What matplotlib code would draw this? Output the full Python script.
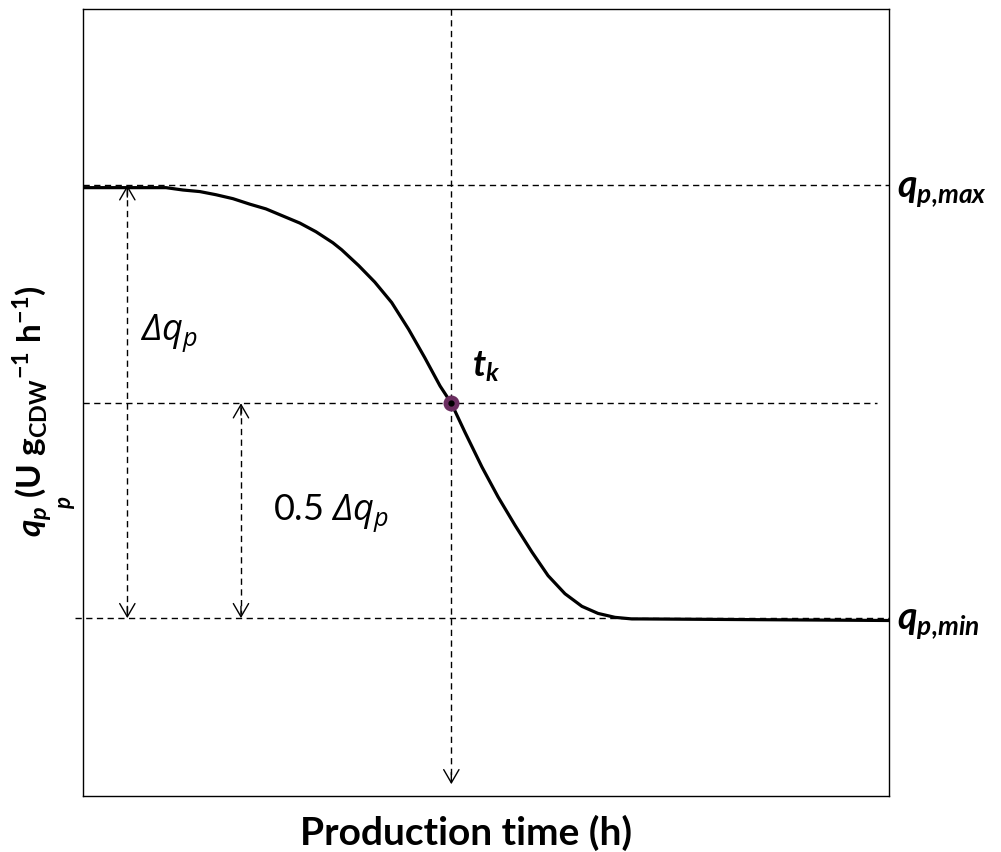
import matplotlib
matplotlib.use("Agg")
import matplotlib.pyplot as plt

plt.rcParams['font.family'] = ['Lato', 'DejaVu Sans']
plt.rcParams['mathtext.fontset'] = 'custom'
# Greek capitals inside \mathit are taken from the "rm" font, so make it italic
plt.rcParams['mathtext.rm'] = 'Open Sans:italic'
plt.rcParams['mathtext.it'] = 'Open Sans:italic'
plt.rcParams['mathtext.bf'] = 'Lato:bold'
plt.rcParams['mathtext.bfit'] = 'Lato:italic:bold'

# ---- data (arbitrary units) ----
time_h = [0.0, 10.3, 12.4, 14.5, 16.5, 18.6, 20.7, 22.7, 24.8, 26.9, 28.9, 31.0,
          32.1, 34.2, 36.2, 38.3, 40.4, 42.4, 44.3, 45.7,
          47.4, 49.5, 51.5, 53.6, 55.7, 57.7, 59.8, 61.9, 63.9, 66.0, 68.1,
          69.1, 100.0]
qp = [77.3, 77.3, 77.0, 76.8, 76.4, 75.9, 75.2, 74.6, 73.7, 72.8, 71.7, 70.3,
      69.4, 67.4, 65.3, 62.7, 59.3, 55.7, 52.1, 49.9,
      46.2, 41.8, 38.0, 34.4, 31.0, 28.0, 25.7, 24.1, 23.2, 22.7, 22.5,
      22.5, 22.3]
qp_max = 77.6
qp_min = 22.6
qp_half = 49.9
t_k = 45.7
x_arrow_full = 5.5
x_arrow_half = 19.6

W, H = 1001, 853
fig = plt.figure(figsize=(W / 100, H / 100), dpi=100)
ax = fig.add_axes([83 / W, 1 - 797 / H, 806 / W, 787 / H])
ax.set_xlim(0, 100)
ax.set_ylim(0, 100)
ax.set_xticks([])
ax.set_yticks([])
for s in ax.spines.values():
    s.set_linewidth(1.0)
    s.set_color('black')

dash = (0, (4.5, 3.2))
lwd = 1.0
# horizontal reference lines
ax.plot([0, 100], [qp_max, qp_max], color='black', lw=lwd, ls=dash, clip_on=False)
ax.plot([0, 98.5], [qp_half, qp_half], color='black', lw=lwd, ls=dash, clip_on=False)
ax.plot([-1, 100], [qp_min, qp_min], color='black', lw=lwd, ls=dash, clip_on=False)

# vertical line at t_k with arrow at bottom
ax.plot([t_k, t_k], [100, 2.0], color='black', lw=lwd, ls=dash)
head = dict(arrowstyle='->,head_length=0.95,head_width=0.55', lw=1.0,
            color='black', shrinkA=0, shrinkB=0)
ax.annotate('', xy=(t_k, 1.5), xytext=(t_k, 3.0), arrowprops=head)

# double arrows
for xa, y0, y1 in [(x_arrow_full, qp_max, qp_min), (x_arrow_half, qp_half, qp_min)]:
    ax.plot([xa, xa], [y0 - 0.5, y1 + 0.5], color='black', lw=lwd, ls=dash)
    ax.annotate('', xy=(xa, y0), xytext=(xa, y0 - 1.5), arrowprops=head)
    ax.annotate('', xy=(xa, y1), xytext=(xa, y1 + 1.5), arrowprops=head)

# curve
ax.plot(time_h, qp, color='black', lw=2.3, solid_joinstyle='round', zorder=3)

# t_k marker
ax.plot([t_k], [qp_half], 'o', ms=10.5, mfc='#6a2d5f', mec='#6a2d5f', zorder=4)
ax.plot([t_k], [qp_half], 'o', ms=3.5, mfc='black', mec='black', zorder=5)

# texts
ax.text(7.1, 58.1, r'$\mathit{Δq_p}$', fontsize=26, ha='left', va='baseline')
ax.text(23.6, 35.2, r'0.5 $\mathit{Δq_p}$', fontsize=26, ha='left', va='baseline')
ax.text(48.3, 53.5, r'$\mathbfit{t_k}$', fontsize=26, ha='left', va='baseline')

fig.text(897 / W, 1 - 198 / H, r'$\mathbfit{q}_{\mathbfit{p{,}max}}$', fontsize=27,
         ha='left', va='baseline')
fig.text(897 / W, 1 - 630 / H, r'$\mathbfit{q}_{\mathbfit{p{,}min}}$', fontsize=27,
         ha='left', va='baseline')

fig.text(466 / W, 1 - 833 / H, 'Production time (h)', fontsize=28, fontweight='bold',
         ha='center', va='center')

fig.text(32 / W, 1 - 411 / H,
         r'$\mathbfit{q}_{\mathbfit{p}}$ (U g$_{\mathbf{CDW}}$$^{\mathbf{-1}}$ h$^{\mathbf{-1}}$)',
         fontsize=24, fontweight='bold', rotation=90, ha='center', va='center')
fig.text(67 / W, 1 - 502 / H, r'$\mathbfit{p}$', fontsize=16, rotation=90,
         ha='center', va='center')

fig.savefig('out.png', dpi=100)
